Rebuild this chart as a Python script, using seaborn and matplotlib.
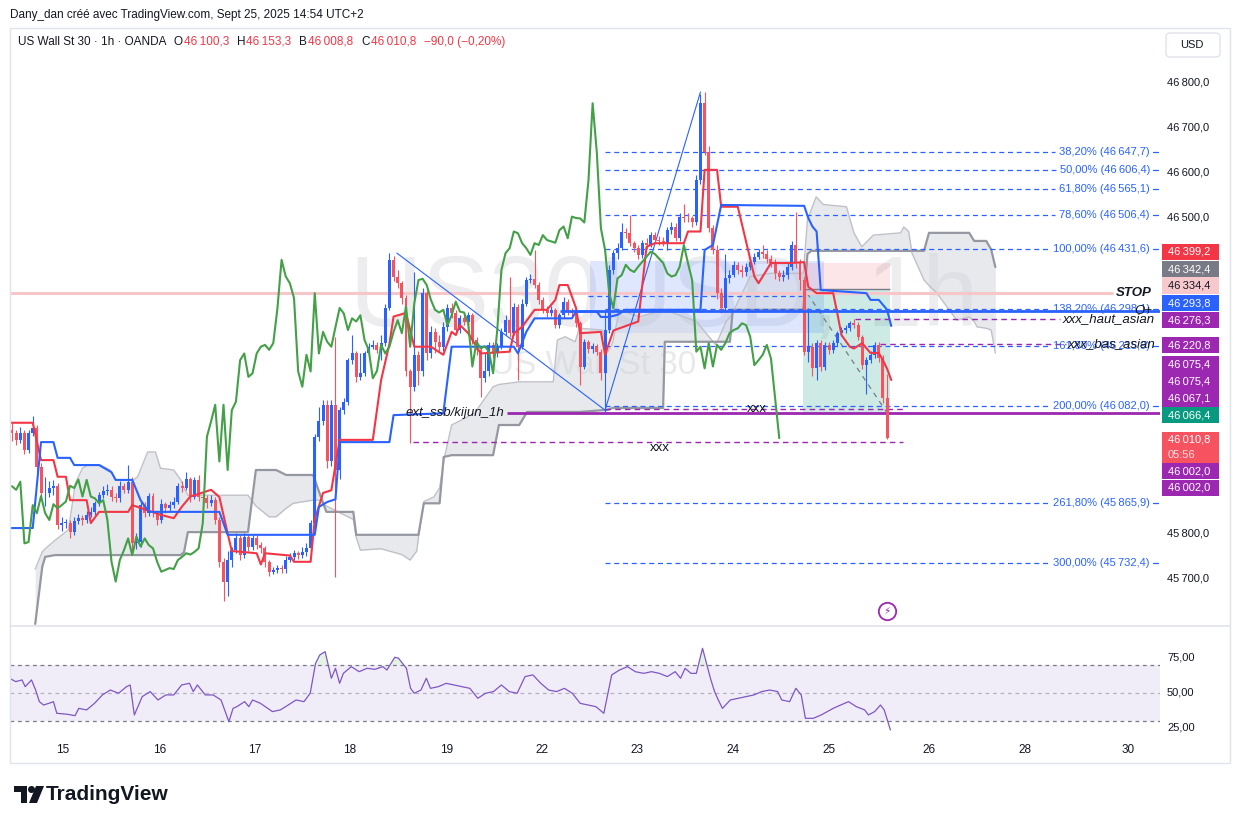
import numpy as np
import pandas as pd
import matplotlib
matplotlib.use("Agg")
import matplotlib.pyplot as plt
import seaborn as sns
from matplotlib.patches import Rectangle, FancyBboxPatch, Ellipse, Polygon
from matplotlib.transforms import blended_transform_factory as blend

first_open = 46029
closes = [46022, 46007, 46022, 45984, 46022, 46033, 45947, 45888, 45890, 45899,
          45904, 45818, 45822, 45823, 45803, 45827, 45833, 45829, 45840, 45847,
          45866, 45884, 45894, 45896, 45881, 45878, 45904, 45896, 45914, 45777,
          45780, 45862, 45844, 45882, 45844, 45829, 45864, 45855, 45862, 45870,
          45905, 45900, 45919, 45881, 45918, 45881, 45877, 45866, 45873, 45829,
          45736, 45692, 45740, 45762, 45788, 45751, 45792, 45770, 45788, 45773,
          45766, 45736, 45714, 45718, 45722, 45720, 45740, 45747, 45755, 45752,
          45758, 45766, 45822, 46014, 46048, 46085, 45959, 46085, 45940, 46073,
          46092, 46184, 46199, 46147, 46155, 46199, 46214, 46218, 46207, 46222,
          46299, 46407, 46370, 46355, 46322, 46159, 46125, 46196, 46159, 46333,
          46199, 46247, 46225, 46214, 46258, 46300, 46288, 46251, 46277, 46270,
          46284, 46229, 46207, 46144, 46160, 46218, 46199, 46214, 46247, 46273,
          46244, 46303, 46214, 46310, 46362, 46365, 46351, 46318, 46296, 46290,
          46296, 46262, 46284, 46314, 46292, 46290, 46266, 46170, 46225, 46210,
          46215, 46203, 46155, 46251, 46384, 46422, 46433, 46470, 46466, 46444,
          46433, 46418, 46444, 46440, 46462, 46451, 46448, 46445, 46473, 46481,
          46455, 46503, 46500, 46499, 46490, 46584, 46755, 46647, 46477, 46429,
          46333, 46299, 46366, 46373, 46396, 46385, 46380, 46392, 46403, 46414,
          46425, 46420, 46410, 46400, 46377, 46370, 46373, 46392, 46440, 46399,
          46362, 46203, 46214, 46166, 46222, 46170, 46218, 46207, 46222, 46244,
          46251, 46255, 46266, 46262, 46236, 46173, 46184, 46196, 46218, 46188,
          46100.3, 46010.8]
highs = [46045, 46030, 46035, 46030, 46030, 46060, 46040, 45955, 45925, 45915,
         45918, 45912, 45835, 45832, 45830, 45835, 45842, 45840, 45850, 45858,
         45872, 45892, 45905, 45910, 45905, 45890, 45915, 45912, 45951, 45925,
         45800, 45870, 45868, 45890, 45888, 45850, 45875, 45870, 45872, 45880,
         45912, 45915, 45935, 45925, 45925, 45930, 45892, 45885, 45885, 45880,
         45835, 45745, 45760, 45770, 45800, 45795, 45800, 45798, 45795, 45795,
         45780, 45772, 45740, 45725, 45730, 45728, 45748, 45755, 45762, 45760,
         45770, 45778, 45830, 46020, 46080, 46095, 46095, 46095, 46236, 46080,
         46100, 46190, 46240, 46205, 46200, 46205, 46222, 46228, 46225, 46240,
         46310, 46422, 46415, 46385, 46360, 46330, 46165, 46380, 46205, 46345,
         46340, 46260, 46255, 46240, 46270, 46310, 46312, 46295, 46285, 46290,
         46292, 46290, 46236, 46212, 46200, 46225, 46225, 46222, 46255, 46285,
         46370, 46312, 46310, 46320, 46370, 46375, 46429, 46358, 46325, 46305,
         46305, 46300, 46290, 46325, 46320, 46300, 46295, 46272, 46232, 46230,
         46222, 46220, 46210, 46296, 46395, 46430, 46445, 46488, 46478, 46507,
         46450, 46440, 46452, 46455, 46470, 46470, 46460, 46458, 46480, 46492,
         46488, 46512, 46530, 46510, 46505, 46595, 46775, 46781, 46660, 46485,
         46440, 46345, 46420, 46385, 46405, 46402, 46395, 46400, 46410, 46422,
         46432, 46440, 46428, 46418, 46408, 46385, 46385, 46400, 46450, 46513,
         46410, 46370, 46300, 46222, 46230, 46228, 46225, 46225, 46230, 46250,
         46258, 46262, 46272, 46275, 46268, 46240, 46192, 46205, 46225, 46225,
         46195, 46153.3]
lows = [46005, 45995, 46000, 45975, 45978, 46015, 45935, 45875, 45860, 45880,
        45885, 45810, 45805, 45812, 45790, 45795, 45820, 45818, 45822, 45835,
        45840, 45860, 45878, 45885, 45872, 45868, 45870, 45888, 45890, 45760,
        45765, 45770, 45835, 45838, 45835, 45818, 45822, 45845, 45848, 45855,
        45865, 45892, 45895, 45870, 45875, 45872, 45865, 45855, 45860, 45820,
        45725, 45648, 45660, 45725, 45755, 45740, 45745, 45760, 45762, 45765,
        45755, 45725, 45705, 45708, 45712, 45712, 45712, 45735, 45740, 45742,
        45745, 45750, 45760, 45815, 46005, 46040, 45945, 45950, 45703, 45920,
        46065, 46085, 46175, 46135, 46140, 46150, 46195, 46208, 46200, 46185,
        46215, 46295, 46360, 46345, 46310, 46150, 46000, 46115, 46130, 46150,
        46185, 46190, 46200, 46205, 46205, 46250, 46278, 46240, 46245, 46262,
        46240, 46220, 46195, 46103, 46135, 46150, 46190, 46192, 46208, 46240,
        46235, 46240, 46140, 46210, 46305, 46355, 46345, 46310, 46288, 46280,
        46282, 46255, 46255, 46278, 46285, 46280, 46258, 46130, 46165, 46200,
        46200, 46195, 46140, 46070, 46245, 46375, 46410, 46428, 46455, 46438,
        46425, 46410, 46412, 46432, 46435, 46445, 46440, 46438, 46430, 46465,
        46448, 46450, 46492, 46490, 46480, 46485, 46575, 46640, 46470, 46420,
        46320, 46290, 46292, 46355, 46368, 46375, 46370, 46372, 46385, 46398,
        46408, 46412, 46400, 46392, 46365, 46360, 46360, 46365, 46385, 46390,
        46340, 46195, 46180, 46150, 46140, 46160, 46162, 46198, 46200, 46215,
        46238, 46245, 46250, 46255, 46228, 46165, 46110, 46178, 46190, 46180,
        46090, 46008.8]

# Ichimoku (tenkan, kijun, nuage) relevé point par point, x en barres
tk_x = [-1, 5, 7, 10, 11, 13, 14, 18, 19, 21, 28, 29, 36, 39, 41, 43, 48, 50, 52, 53,
        59, 60, 61, 67, 68, 72, 73, 75, 77, 79, 87, 89, 91, 92, 95, 97, 101, 104, 106, 107,
        108, 110, 113, 120, 121, 123, 126, 129, 131, 132, 134, 136, 137, 142, 143, 145, 151, 153, 155, 162,
        163, 166, 167, 170, 171, 175, 179, 180, 183, 188, 191, 192, 194, 198, 199, 200, 202, 203, 205, 207,
        209, 210, 211, 212]
tk_y = [46045, 46045, 45962, 45962, 45925, 45925, 45873, 45873, 45822, 45847, 45847, 45862, 45840, 45833, 45859, 45881, 45896, 45880, 45799, 45760,
        45755, 45730, 45755, 45750, 45736, 45736, 45830, 45889, 45895, 46007, 46007, 46140, 46220, 46281, 46289, 46214, 46214, 46196, 46247, 46240,
        46262, 46244, 46199, 46203, 46244, 46258, 46296, 46296, 46318, 46351, 46351, 46300, 46244, 46247, 46196, 46250, 46270, 46436, 46444, 46444,
        46470, 46470, 46607, 46607, 46525, 46525, 46370, 46355, 46400, 46400, 46402, 46347, 46333, 46333, 46288, 46240, 46214, 46210, 46222, 46200,
        46200, 46184, 46165, 46140]
kj_x = [-1, 5, 7, 10, 11, 14, 15, 21, 24, 25, 29, 31, 33, 50, 52, 73, 74, 76, 78, 79,
        91, 92, 104, 106, 121, 122, 124, 126, 135, 136, 141, 142, 144, 146, 148, 166, 167, 169, 171, 191,
        192, 193, 194, 195, 206, 207, 209, 211, 212]
kj_y = [45811, 45811, 46002, 46002, 45967, 45967, 45951, 45951, 45935, 45918, 45918, 45873, 45847, 45847, 45796, 45796, 45858, 45869, 45875, 46002,
        46002, 46062, 46066, 46214, 46214, 46199, 46247, 46277, 46277, 46292, 46292, 46280, 46280, 46285, 46296, 46296, 46429, 46440, 46529, 46527,
        46500, 46481, 46470, 46340, 46333, 46318, 46318, 46296, 46260]
span_x = [5.6, 7.3, 8, 10.4, 13.6, 15.3, 17, 18.2, 21.3, 23.7, 24.9, 29.3, 30.3, 32.7, 34.6, 35.8, 39, 40.7, 41.5, 42.4,
          56.9, 58.8, 62, 63.7, 66.1, 67.8, 72.6, 74.1, 75.8, 82.3, 83, 84, 89, 94, 96, 97.6, 98, 99.3, 101.7, 103.1,
          104.1, 106, 111.5, 116, 117.4, 122.3, 124.2, 130.5, 131.5, 133.4, 135.8, 136.8, 142.4, 143.5, 144.8, 146.5, 151.3, 157, 157.4, 165,
          169.7, 172.2, 173.1, 173.8, 178, 182.8, 190.8, 191.8, 192.7, 193.9, 195.6, 201.2, 203, 204.9, 207.7, 214.3, 215, 216.2, 217, 219.9,
          221.1, 223, 225.4, 227.8, 230.8, 232, 232.7, 234.9, 236.1, 237.1]
span_a = [45720, 45758, 45765, 45784, 45807, 45911, 45944, 45951, 45951, 45940, 45918, 45918, 45925, 45980, 45980, 45944, 45940, 45918, 45900, 45884,
          45884, 45860, 45836, 45836, 45855, 45866, 45873, 45873, 45860, 45830, 45790, 45762, 45765, 45752, 45740, 45760, 45790, 45870, 45880, 45900,
          45960, 46040, 46066, 46125, 46130, 46136, 46136, 46136, 46229, 46236, 46225, 46255, 46251, 46200, 46222, 46296, 46280, 46296, 46296, 46270,
          46218, 46270, 46280, 46290, 46370, 46377, 46377, 46496, 46518, 46547, 46530, 46525, 46467, 46436, 46462, 46467, 46480, 46470, 46422, 46362,
          46350, 46333, 46303, 46273, 46280, 46270, 46258, 46255, 46251, 46200]
span_b = [45598, 45725, 45747, 45751, 45751, 45751, 45751, 45751, 45751, 45751, 45751, 45751, 45751, 45751, 45751, 45751, 45751, 45751, 45758, 45802,
          45802, 45940, 45940, 45940, 45929, 45929, 45929, 45890, 45847, 45847, 45796, 45796, 45796, 45796, 45796, 45796, 45796, 45866, 45866, 45866,
          45969, 45973, 45973, 45973, 46040, 46040, 46069, 46069, 46069, 46069, 46069, 46069, 46073, 46073, 46078, 46078, 46078, 46078, 46225, 46225,
          46225, 46225, 46225, 46296, 46296, 46296, 46296, 46420, 46427, 46427, 46427, 46427, 46427, 46427, 46427, 46427, 46427, 46427, 46427, 46427,
          46467, 46467, 46467, 46467, 46467, 46449, 46449, 46449, 46430, 46391]

rsi_x = [-0.6, 0.9, 2.4, 3.2, 4.7, 5.7, 6.6, 7.6, 8.9, 10, 10.8, 13.3, 15.2, 16.1, 18, 19.9, 21.8, 23.7, 25.7, 27.6,
         28.5, 29.5, 31.4, 33.3, 35.2, 37.1, 39, 40.9, 42.8, 43.7, 44.7, 46.6, 48.5, 50.4, 52.3, 53.3, 54.2, 56.1, 57.1, 58,
         59.9, 62.8, 64.7, 66.6, 68.5, 70.4, 71.9, 73.2, 74.2, 75.5, 77, 78, 79, 79.9, 81.8, 83.7, 85.6, 87.5, 89.4, 90.4,
         92.3, 93.2, 95.1, 96.1, 97, 98.6, 99.9, 100.9, 102.8, 104.7, 106.6, 108.5, 110.4, 112.3, 114.2, 116.1, 118, 119.9, 121.8, 123.7,
         125.6, 127.5, 129.4, 131.3, 133.2, 135.1, 137, 138.9, 140.8, 142.7, 144.6, 146.5, 148.4, 150.3, 152.3, 154.2, 156.1, 158, 159.9, 161.2,
         162.3, 163.7, 165, 166.5, 168.4, 169.4, 170.3, 171.3, 173.2, 175.1, 177, 178.9, 180.8, 182.7, 184.6, 185.6, 187.5, 189, 190.3, 191.3,
         193.2, 195.1, 196.6, 198, 199.8, 201.7, 203.6, 205.6, 206.5, 208, 209.4, 210.3, 211.8]
rsi_y = [60.5, 58.1, 59.3, 54.5, 59.3, 52.1, 43.8, 41.4, 42.6, 43.8, 35.5, 34.8, 33.8, 39, 37.9, 42.6, 48.6, 52.1, 49.8, 54.5,
         55.7, 34.3, 47.4, 51, 45, 48.6, 48.6, 55.7, 56.9, 51, 55.7, 48.6, 48.6, 45, 29.5, 39, 40.2, 43.8, 40.2, 45,
         42.6, 36.7, 37.9, 41.4, 45, 43.8, 49.8, 71.2, 77.1, 79.5, 60.5, 67.6, 56.9, 64, 68.8, 65.2, 67.6, 66.9, 68.8, 66.4,
         75.5, 74.8, 67.6, 53.3, 49.8, 52.1, 60.5, 53.3, 54.5, 56.9, 55.7, 54.5, 53.3, 46.2, 49.8, 51, 55.7, 51, 49.8, 61.7,
         62.9, 56.9, 52.1, 51, 53.3, 49.8, 42.6, 41.4, 40.2, 35.5, 62.9, 66.4, 68.8, 65.2, 64, 65.2, 64, 61.7, 65.2, 60.5,
         67.6, 64, 64, 81.9, 60.5, 51, 45, 39, 45, 46.2, 47.4, 48.6, 51, 52.1, 51, 45, 43.8, 53.3, 48.6, 31.9,
         31.9, 34.3, 36.7, 39, 41.4, 43.8, 40.2, 37.9, 34.3, 36.7, 41.4, 37.9, 23.6]

# outils de dessin
fib_pct = ['38,20%', '50,00%', '61,80%', '78,60%', '100,00%', '138,20%', '161,80%', '200,00%', '261,80%', '300,00%']
fib_val = [46647.7, 46606.4, 46565.1, 46506.4, 46431.6, 46298.1, 46215.9, 46082.0, 45865.9, 45732.4]
swing_x = [92.8, 143.0, 166.0]
swing_y = [46422, 46073, 46780]
stop_level = 46334.4
o_level = 46293.8
haut_asian = 46276.3
bas_asian = 46220.8
ssb_level = 46067.1
xxx_hi = 46075.4
xxx_lo = 46002.0
entry, stop_top, target = 46342.4, 46399.2, 46066.4
zone_top, zone_bot, zone_mid = 46404, 46244, 46327

days = ['15', '16', '17', '18', '19', '22', '23', '24', '25', '26', '28', '30']
day_pos = [12.3, 35.7, 58.6, 81.5, 104.7, 127.8, 150.7, 173.9, 197.0, 221.1, 244.3, 269.1]
price_ticks = [46800, 46700, 46600, 46500, 45800, 45700]
badge_val = [46399.2, 46342.4, 46334.4, 46293.8, 46276.3, 46220.8, 46075.4, 46075.4, 46067.1, 46066.4, 46010.8, 46002.0, 46002.0]
badge_col = ['#f23645', '#787b86', '#f8c9cc', '#2962ff', '#9c27b0', '#9c27b0', '#9c27b0', '#9c27b0', '#9c27b0', '#089981', '#f7525f', '#9c27b0', '#9c27b0']
badge_py = [252, 269, 285.5, 303, 320, 345, 364.5, 381.5, 398.5, 415, 447.5, 471, 488]

ohlc = [('O', 46100.3), ('H', 46153.3), ('B', 46008.8), ('C', 46010.8)]
change, change_pct = -90.0, -0.20


def fmt(v, d=1):
    s = f"{abs(v):,.{d}f}".replace(",", "\u2009").replace(".", ",")
    return ("\u2212" if v < 0 else "") + s


## Mise en page (pixels de la capture)
W, H = 1233, 824
def fx(p): return p / W
def fy(p): return 1 - p / H

sns.set_theme(style="white")
plt.rcParams['font.family'] = ['Liberation Sans', 'DejaVu Sans']

DARK = '#131722'
RED = '#f23645'
BLUE = '#2962ff'
PURPLE = '#9c27b0'
XL = (-0.48, 276.8)

fig = plt.figure(figsize=(W / 100, H / 100), dpi=100)
fig.patch.set_facecolor('white')
ax = fig.add_axes([fx(10), fy(625), 1150 / W, 597 / H])
ax_rsi = fig.add_axes([fx(10), fy(763), 1150 / W, 136 / H])
ax.set_xlim(*XL)
ax.set_ylim(45595.6, 46922.2)
ax_rsi.set_xlim(*XL)
ax_rsi.set_ylim(0, 97.1)
for a in (ax, ax_rsi):
    a.set_xticks([])
    a.set_yticks([])
    for s in a.spines.values():
        s.set_visible(False)
    a.set_facecolor('none')

tr = blend(ax.transAxes, ax.transData)

# filigrane
ax.text(0.569, 0.544, 'US30USD, 1h', transform=ax.transAxes, ha='center', va='center',
        fontsize=72, color='#ededf0', zorder=0.5)
ax.text(0.507, 0.434, 'US Wall St 30', transform=ax.transAxes, ha='center', va='center',
        fontsize=24, color='#e9e9ec', zorder=0.5)

# zones (rectangle bleu, position vendeuse)
ax.add_patch(Rectangle((139.4, zone_bot), 56.4, zone_top - zone_bot, facecolor=BLUE, alpha=0.15, lw=0, zorder=1))
ax.add_patch(Rectangle((190.8, entry), 20.8, stop_top - entry, facecolor='#f23645', alpha=0.12, lw=0, zorder=1))
ax.add_patch(Rectangle((190.8, target), 20.8, entry - target, facecolor='#089981', alpha=0.2, lw=0, zorder=1))
ax.hlines(entry, 190.8, 211.6, colors='#787b86', lw=1, zorder=1.5)
ax.plot([191.7, 211.0], [46333, 46067], color='#787b86', lw=0.9, ls=(0, (4, 4)), zorder=1.5)
ax.hlines(zone_mid, 138.9, 190.5, colors=BLUE, lw=0.9, linestyles=(0, (4, 3)), zorder=3)

# nuage ichimoku
ax.fill_between(span_x, span_a, span_b, color='#d1d4dc', alpha=0.5, lw=0, zorder=2)
sns.lineplot(x=span_x, y=span_a, ax=ax, color='#bfc1c8', lw=1.0, sort=False, estimator=None, legend=False, zorder=2.2)
sns.lineplot(x=span_x, y=span_b, ax=ax, color='#9598a1', lw=1.6, sort=False, estimator=None, legend=False, zorder=2.2)

# lignes horizontales
ax.hlines(stop_level, XL[0], 265.5, colors='#f7c6c9', lw=2.2, zorder=3)
ax.hlines(haut_asian, 203.3, 252.7, colors=PURPLE, lw=1, linestyles=(0, (4, 3)), zorder=3)
ax.hlines(bas_asian, 209.3, 254.2, colors=PURPLE, lw=1, linestyles=(0, (4, 3)), zorder=3)
ax.hlines(xxx_lo, 96.7, 214.9, colors=PURPLE, lw=1, linestyles=(0, (4, 3)), zorder=3)
ax.hlines(xxx_hi, 143.0, 215.3, colors=PURPLE, lw=1, linestyles=(0, (4, 3)), zorder=3)
ax.hlines(ssb_level, 119.4, XL[1], colors=PURPLE, lw=2, zorder=3)
ax.plot(swing_x, swing_y, color=BLUE, lw=0.8, zorder=3.5)

# bougies
c = np.array(closes, float)
o = np.r_[first_open, c[:-1]]
hi = np.array(highs, float)
lo = np.array(lows, float)
x = np.arange(len(c))
col = np.where(c >= o, BLUE, '#f7525f')
ax.vlines(x, lo, hi, colors=col, lw=0.8, zorder=4)
ax.bar(x, np.maximum(np.abs(c - o), 1.5), bottom=np.minimum(o, c), width=0.72, color=col, lw=0, zorder=4)

# tenkan, kijun, chikou
sns.lineplot(x=tk_x, y=tk_y, ax=ax, color='#f23645', lw=1.5, sort=False, estimator=None, legend=False, zorder=5)
sns.lineplot(x=kj_x, y=kj_y, ax=ax, color=BLUE, lw=1.5, sort=False, estimator=None, legend=False, zorder=5)
sns.lineplot(x=x[26:] - 26, y=c[26:], ax=ax, color='#43a047', lw=1.5, sort=False, estimator=None, legend=False, zorder=5)
ax.hlines(o_level, 132.1, XL[1], colors=BLUE, lw=2, zorder=6)

# textes des outils
fib_texts = []
for p, v in zip(fib_pct, fib_val):
    t = ax.text(0.9913, v, f"{p} ({fmt(v)})", transform=tr, ha='right', va='center',
                color=BLUE, fontsize=8, zorder=3)
    fib_texts.append(t)
ax.text(0.993, stop_level, 'STOP', transform=tr, ha='right', va='center', fontsize=9.5,
        fontweight='bold', fontstyle='italic', color=DARK, zorder=7)
ax.text(0.993, o_level, 'O+', transform=tr, ha='right', va='center', fontsize=9.5,
        fontstyle='italic', color=DARK, zorder=7)
ax.text(0.9957, haut_asian, 'xxx_haut_asian', transform=tr, ha='right', va='center', fontsize=9.5,
        fontstyle='italic', color=DARK, zorder=7)
ax.text(0.9957, bas_asian, 'xxx_bas_asian', transform=tr, ha='right', va='center', fontsize=9.5,
        fontstyle='italic', color=DARK, zorder=7)
ax.text(94.8, ssb_level, 'ext_ssb/kijun_1h', ha='left', va='center', fontsize=9.5,
        fontstyle='italic', color=DARK, zorder=7)
ax.annotate('xxx', (156.3, xxx_lo), xytext=(0, -4), textcoords='offset points', ha='center',
            va='center', fontsize=9.5, color=DARK, zorder=7)
ax.annotate('xxx', (179.6, xxx_hi), xytext=(0, 0), textcoords='offset points', ha='center',
            va='center', fontsize=9.5, color=DARK, zorder=7)

# icône éclair
ax.plot([211], [45627], marker='o', ms=12.5, mfc='white', mec=PURPLE, mew=1.3, zorder=7, clip_on=False)
ax.text(211, 45627, '\u26a1', ha='center', va='center', fontsize=7.5, color=PURPLE,
        family=['DejaVu Sans'], zorder=8)

# échelle de prix
for v in price_ticks:
    ax.text(1.0061, v, fmt(v), transform=tr, ha='left', va='center', fontsize=8, color=DARK, clip_on=False)
for v, colr, py in zip(badge_val, badge_col, badge_py):
    hgt = 31 if v == 46010.8 else 16.5
    fig.patches.append(Rectangle((fx(1162), fy(py + hgt / 2)), 57 / W, hgt / H, transform=fig.transFigure,
                                 facecolor=colr, edgecolor='none', zorder=5))
    tc = DARK if colr == '#f8c9cc' else 'white'
    if v == 46010.8:
        fig.text(fx(1167.5), fy(py - 7.5), fmt(v), ha='left', va='center', fontsize=8, color=tc, zorder=6)
        fig.text(fx(1167.5), fy(py + 7.5), '05:56', ha='left', va='center', fontsize=8, color='#fde4e6', zorder=6)
    else:
        fig.text(fx(1167.5), fy(py), fmt(v), ha='left', va='center', fontsize=8, color=tc, zorder=6)

fig.patches.append(FancyBboxPatch((fx(1166), fy(57)), 54 / W, 24 / H, boxstyle='round,pad=0,rounding_size=0.004',
                                  transform=fig.transFigure, facecolor='white', edgecolor='#e0e3eb', lw=1))
fig.text(fx(1192), fy(45), 'USD', ha='center', va='center', fontsize=8, color=DARK)

# RSI
ax_rsi.axhspan(30, 70, color='#7e57c2', alpha=0.1, lw=0, zorder=1)
ax_rsi.axhline(70, color='#787b86', lw=0.9, ls=(0, (3, 3)), zorder=2)
ax_rsi.axhline(30, color='#787b86', lw=0.9, ls=(0, (3, 3)), zorder=2)
ax_rsi.axhline(50, color='#787b86', lw=0.9, ls=(0, (3, 3)), alpha=0.5, zorder=2)
r = np.array(rsi_y)
ax_rsi.fill_between(rsi_x, 70, r, where=r > 70, interpolate=True, color='#4caf50', alpha=0.15, lw=0, zorder=2)
sns.lineplot(x=rsi_x, y=rsi_y, ax=ax_rsi, color='#7e57c2', lw=0.9, sort=False, estimator=None, legend=False, zorder=3)
trr = blend(ax_rsi.transAxes, ax_rsi.transData)
for v in (75, 50, 25):
    ax_rsi.text(1.0061, v, fmt(v, 2), transform=trr, ha='left', va='center', fontsize=8, color=DARK, clip_on=False)
for d, p in zip(days, day_pos):
    ax_rsi.text(p, 9.3, d, ha='center', va='center', fontsize=8.5, color=DARK)

# cadre et séparateur
fig.patches.append(Rectangle((fx(10), fy(763)), 1220 / W, 735 / H, transform=fig.transFigure,
                             fill=False, edgecolor='#e0e3eb', lw=1))
fig.add_artist(plt.Line2D([fx(10), fx(1230)], [fy(626), fy(626)], color='#e0e3eb', lw=1.2))

# logo TradingView
fig.patches.append(Polygon([(fx(14), fy(786)), (fx(27), fy(786)), (fx(27), fy(803)), (fx(21), fy(803)),
                            (fx(21), fy(792)), (fx(14), fy(792))], closed=True, transform=fig.transFigure,
                           facecolor=DARK, edgecolor='none'))
fig.patches.append(Ellipse((fx(31.5), fy(789.5)), 7 / W, 7 / H, transform=fig.transFigure,
                           facecolor=DARK, edgecolor='none'))
fig.patches.append(Polygon([(fx(36), fy(786)), (fx(44), fy(786)), (fx(37), fy(803)), (fx(29), fy(803))],
                           closed=True, transform=fig.transFigure, facecolor=DARK, edgecolor='none'))
fig.text(fx(46), fy(795), 'TradingView', ha='left', va='center', fontsize=15, fontweight='bold', color=DARK)

# en-tête : morceaux posés l'un après l'autre
fig.text(fx(10), fy(15), 'Dany_dan créé avec TradingView.com, Sept 25, 2025 14:54 UTC+2',
         ha='left', va='center', fontsize=8.5, color=DARK)
fig.canvas.draw()
rend = fig.canvas.get_renderer()
pieces = [('US Wall St 30 \u00b7 1h \u00b7 OANDA', DARK, 7)]
for lab, v in ohlc:
    pieces += [(lab, DARK, 1), (fmt(v), RED, 8)]
pieces.append((f"{fmt(change)} ({fmt(change_pct, 2)}%)", RED, 0))
xpos = 18
for txt, colr, gap in pieces:
    t = fig.text(fx(xpos), fy(42), txt, ha='left', va='center', fontsize=8.5, color=colr)
    xpos += t.get_window_extent(renderer=rend).width + gap

# lignes de Fibonacci : jusqu'au libellé, puis un petit tiret
fig.canvas.draw()
inv = ax.transData.inverted()
for t, v in zip(fib_texts, fib_val):
    bb = t.get_window_extent()
    x_end = inv.transform((bb.x0 - 4, 0))[0]
    ax.hlines(v, swing_x[1], x_end, colors=BLUE, lw=0.9, linestyles=(0, (4, 3)), zorder=3)
    ax.plot([0.9939, 0.9983], [v, v], transform=tr, color=BLUE, lw=0.9, zorder=3, clip_on=False)

fig.savefig('out.png', dpi=100, facecolor='white')
